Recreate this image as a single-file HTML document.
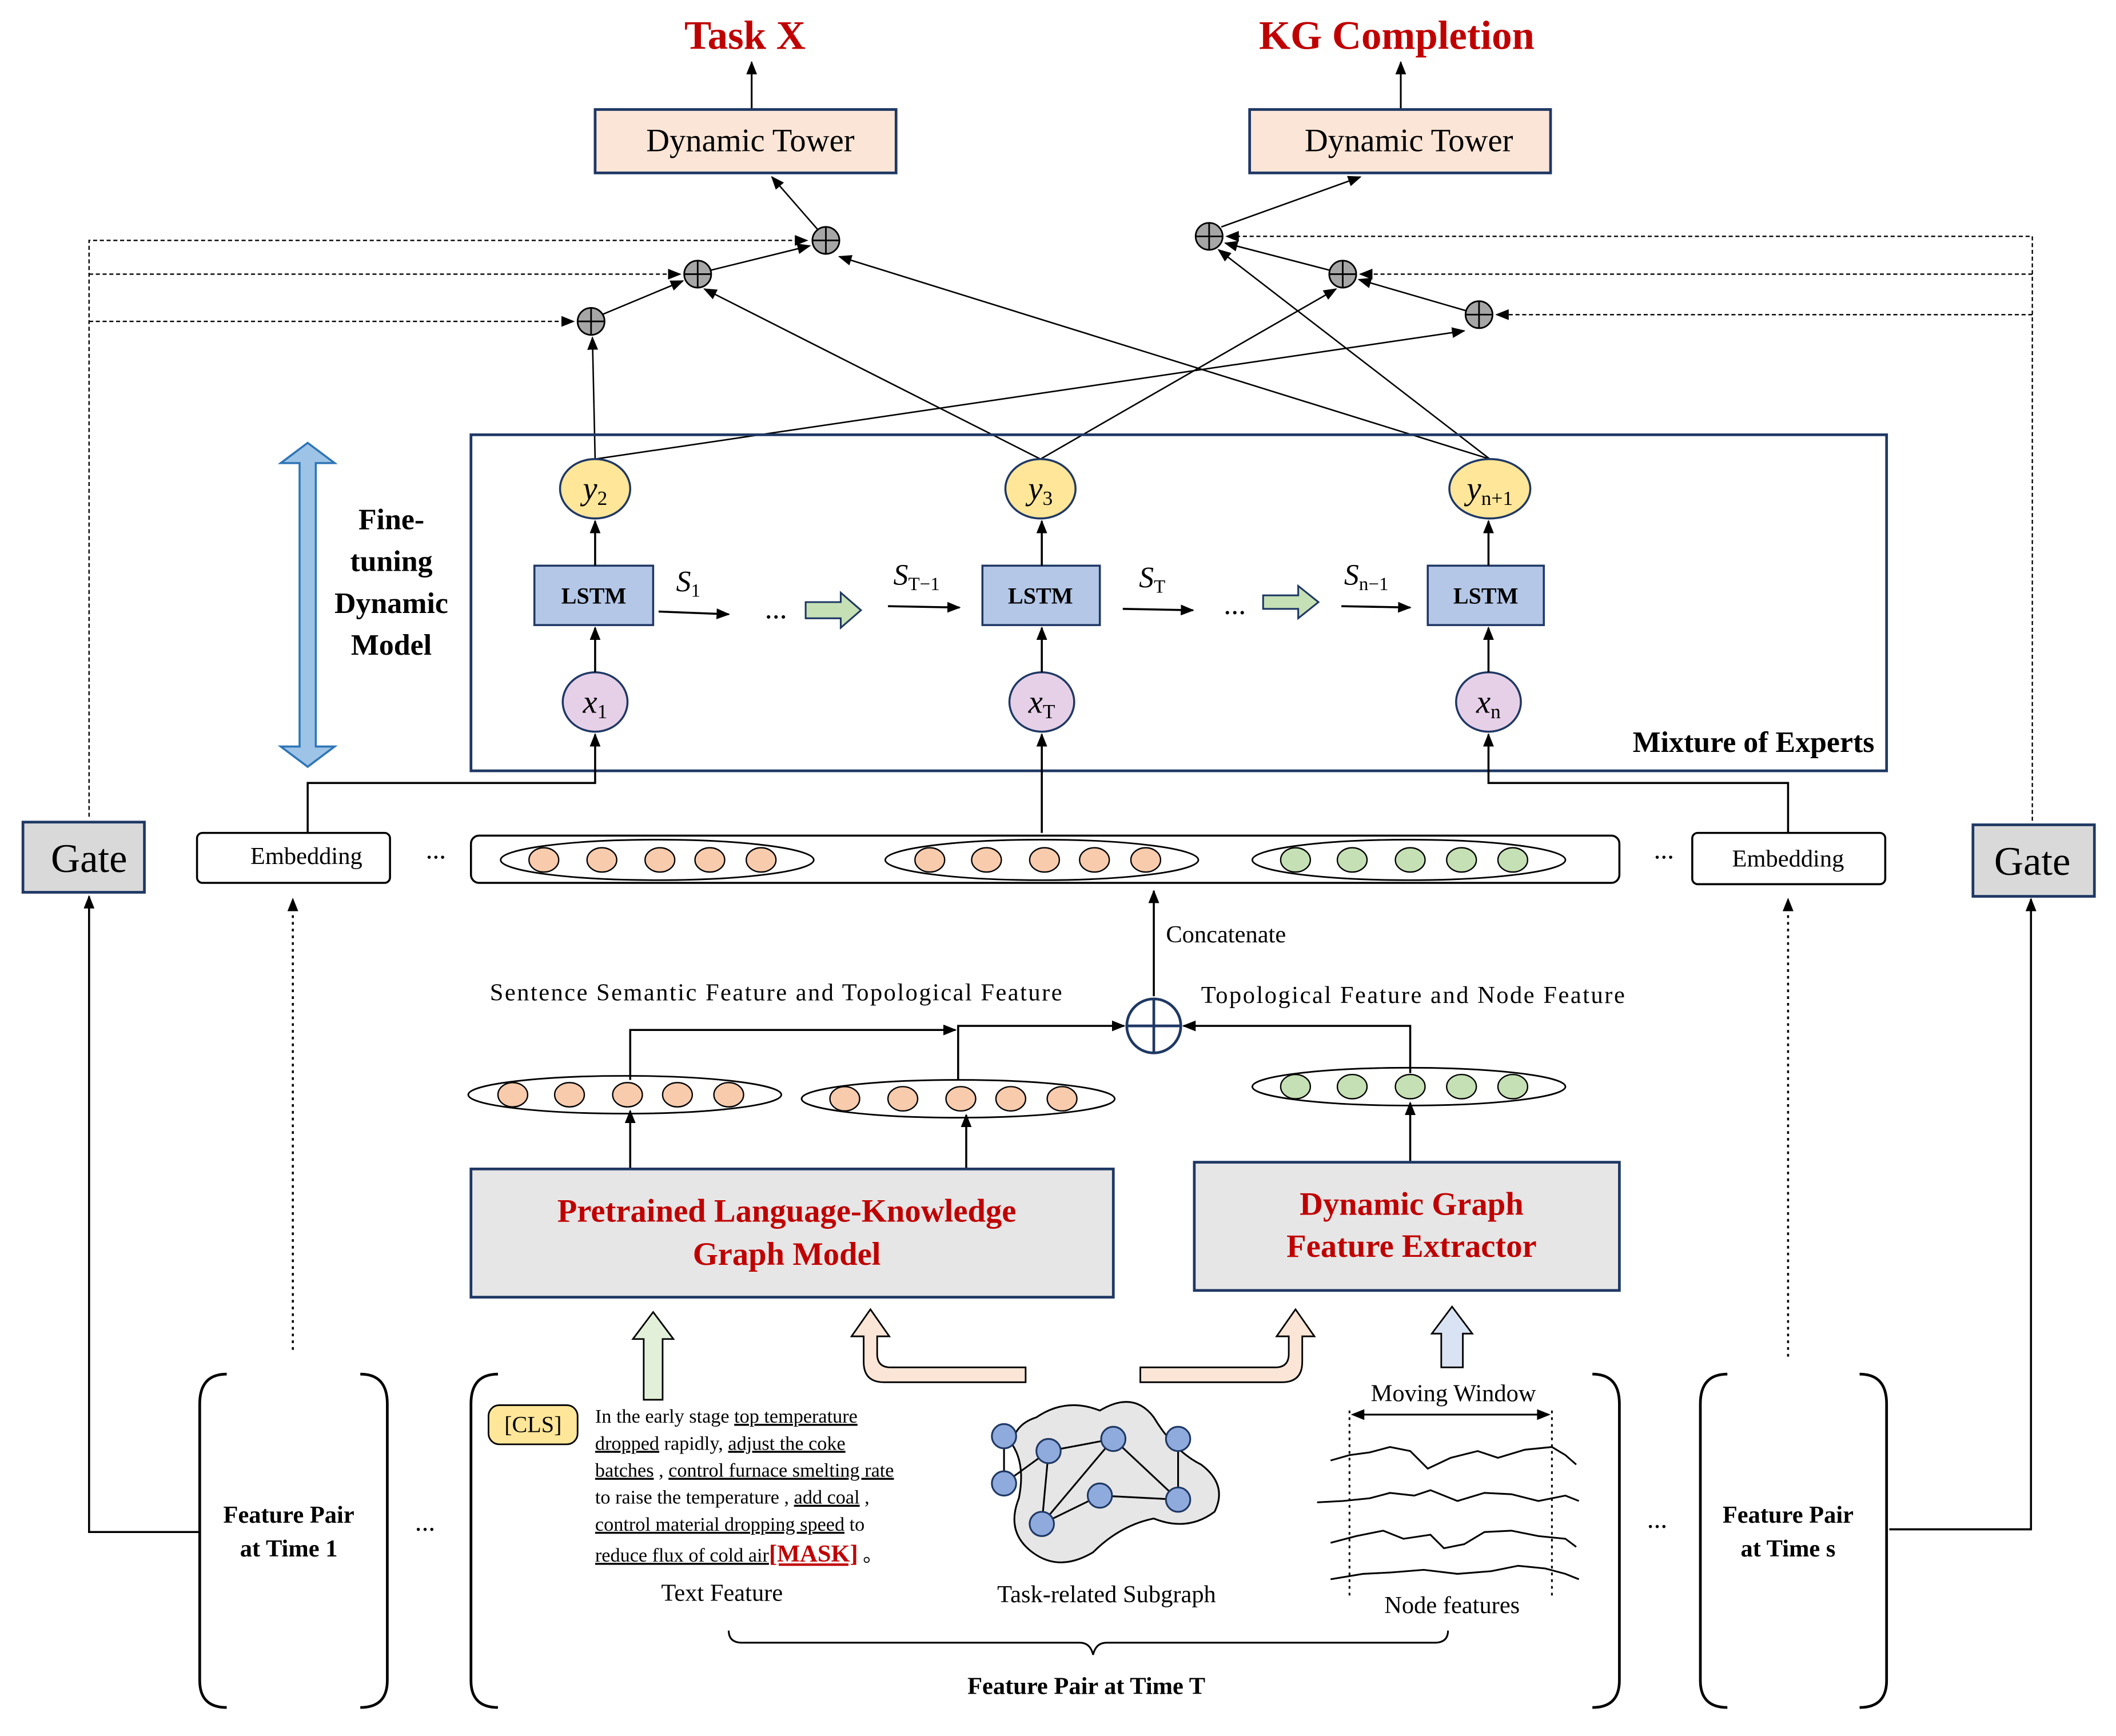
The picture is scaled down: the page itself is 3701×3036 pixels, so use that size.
<!DOCTYPE html>
<html><head><meta charset="utf-8"><style>
html,body{margin:0;padding:0;background:#fff}
svg{display:block}
text{font-family:"Liberation Serif",serif}
</style></head><body>
<svg width="3701" height="3036" viewBox="0 0 1568 1286" xmlns="http://www.w3.org/2000/svg">
<defs>
<marker id="a" markerWidth="10" markerHeight="8" refX="9" refY="4" orient="auto" markerUnits="userSpaceOnUse"><path d="M0,0 L10,4 L0,8 z" fill="#000"/></marker>
</defs>
<rect width="1568" height="1286" fill="#fff"/>
<text x="552" y="36" font-size="30" font-weight="bold" fill="#c00000" text-anchor="middle">Task X</text>
<text x="1035" y="36" font-size="30" font-weight="bold" fill="#c00000" text-anchor="middle">KG Completion</text>
<g stroke="#000" stroke-width="1.3" fill="none">
<line x1="557" y1="81" x2="557" y2="46" marker-end="url(#a)"/>
<line x1="1038" y1="81" x2="1038" y2="46" marker-end="url(#a)"/>
</g>
<rect x="441" y="81" width="223" height="47" fill="#fbe5d6" stroke="#1f3864" stroke-width="2"/>
<rect x="926" y="81" width="223" height="47" fill="#fbe5d6" stroke="#1f3864" stroke-width="2"/>
<text x="556" y="112" font-size="24" text-anchor="middle">Dynamic Tower</text>
<text x="1044" y="112" font-size="24" text-anchor="middle">Dynamic Tower</text>
<g stroke="#000" stroke-width="1.1" fill="none">
<line x1="606" y1="170" x2="572" y2="131" marker-end="url(#a)"/>
<line x1="905" y1="168" x2="1008" y2="131" marker-end="url(#a)"/>
<line x1="446" y1="233" x2="506" y2="208" marker-end="url(#a)"/>
<line x1="527" y1="200" x2="600" y2="182" marker-end="url(#a)"/>
<line x1="1086" y1="230" x2="1007" y2="207" marker-end="url(#a)"/>
<line x1="985" y1="200" x2="908" y2="180" marker-end="url(#a)"/>
<line x1="441" y1="340" x2="439" y2="250" marker-end="url(#a)"/>
<line x1="441" y1="340" x2="1085" y2="245" marker-end="url(#a)"/>
<line x1="771" y1="340" x2="522" y2="214" marker-end="url(#a)"/>
<line x1="771" y1="340" x2="990" y2="214" marker-end="url(#a)"/>
<line x1="1104" y1="340" x2="622" y2="190" marker-end="url(#a)"/>
<line x1="1104" y1="340" x2="903" y2="185" marker-end="url(#a)"/>
</g>
<g stroke="#000" stroke-width="1" fill="none" stroke-dasharray="3,2">
<polyline points="66,605 66,178 598,178" marker-end="url(#a)"/>
<line x1="66" y1="203" x2="504" y2="203" marker-end="url(#a)"/>
<line x1="66" y1="238" x2="425" y2="238" marker-end="url(#a)"/>
<polyline points="1506,608 1506,175 909,175" marker-end="url(#a)"/>
<line x1="1506" y1="203" x2="1008" y2="203" marker-end="url(#a)"/>
<line x1="1506" y1="233" x2="1109" y2="233" marker-end="url(#a)"/>
</g>
<g fill="#a6a6a6" stroke="#000" stroke-width="1.2">
<circle cx="612" cy="178" r="10"/><circle cx="517" cy="203" r="10"/><circle cx="438" cy="238" r="10"/>
<circle cx="896" cy="175" r="10"/><circle cx="995" cy="203" r="10"/><circle cx="1096" cy="233" r="10"/>
</g>
<g stroke="#000" stroke-width="1.2">
<path d="M602,178h20M612,168v20M507,203h20M517,193v20M428,238h20M438,228v20M886,175h20M896,165v20M985,203h20M995,193v20M1086,233h20M1096,223v20"/>
</g>
<rect x="349" y="322" width="1049" height="249" fill="none" stroke="#1f3864" stroke-width="2"/>
<text x="1389" y="557" font-size="22" font-weight="bold" text-anchor="end">Mixture of Experts</text>
<g fill="#ffe699" stroke="#1f3864" stroke-width="1.5">
<ellipse cx="441" cy="362" rx="26" ry="22"/><ellipse cx="771" cy="362" rx="26" ry="22"/><ellipse cx="1104" cy="362" rx="30" ry="22"/>
</g>
<text x="441" y="370" font-size="24" font-style="italic" text-anchor="middle">y<tspan font-size="15" font-style="normal" dy="4">2</tspan></text>
<text x="771" y="370" font-size="24" font-style="italic" text-anchor="middle">y<tspan font-size="15" font-style="normal" dy="4">3</tspan></text>
<text x="1104" y="370" font-size="24" font-style="italic" text-anchor="middle">y<tspan font-size="15" font-style="normal" dy="4">n+1</tspan></text>
<g fill="#b4c7e7" stroke="#1f3864" stroke-width="1.5">
<rect x="396" y="419" width="88" height="44"/><rect x="728" y="419" width="87" height="44"/><rect x="1058" y="419" width="86" height="44"/>
</g>
<g font-size="17" font-weight="bold" text-anchor="middle">
<text x="440" y="447">LSTM</text><text x="771" y="447">LSTM</text><text x="1101" y="447">LSTM</text>
</g>
<g fill="#e6d0e8" stroke="#1f3864" stroke-width="1.5">
<ellipse cx="441" cy="520" rx="24" ry="22"/><ellipse cx="772" cy="520" rx="24" ry="22"/><ellipse cx="1103" cy="520" rx="24" ry="22"/>
</g>
<text x="441" y="528" font-size="24" font-style="italic" text-anchor="middle">x<tspan font-size="15" font-style="normal" dy="4">1</tspan></text>
<text x="772" y="528" font-size="24" font-style="italic" text-anchor="middle">x<tspan font-size="15" font-style="normal" dy="4">T</tspan></text>
<text x="1103" y="528" font-size="24" font-style="italic" text-anchor="middle">x<tspan font-size="15" font-style="normal" dy="4">n</tspan></text>
<g stroke="#000" stroke-width="1.5" fill="none">
<line x1="441" y1="498" x2="441" y2="465" marker-end="url(#a)"/>
<line x1="772" y1="498" x2="772" y2="465" marker-end="url(#a)"/>
<line x1="1103" y1="498" x2="1103" y2="465" marker-end="url(#a)"/>
<line x1="441" y1="419" x2="441" y2="386" marker-end="url(#a)"/>
<line x1="772" y1="419" x2="772" y2="386" marker-end="url(#a)"/>
<line x1="1103" y1="419" x2="1103" y2="386" marker-end="url(#a)"/>
<line x1="488" y1="453" x2="540" y2="455" marker-end="url(#a)"/>
<line x1="658" y1="449" x2="711" y2="450" marker-end="url(#a)"/>
<line x1="832" y1="451" x2="884" y2="452" marker-end="url(#a)"/>
<line x1="994" y1="449" x2="1045" y2="450" marker-end="url(#a)"/>
</g>
<g font-size="22" font-style="italic">
<text x="501" y="438">S<tspan font-size="14" font-style="normal" dy="4">1</tspan></text>
<text x="662" y="433">S<tspan font-size="14" font-style="normal" dy="4">T−1</tspan></text>
<text x="844" y="435">S<tspan font-size="14" font-style="normal" dy="4">T</tspan></text>
<text x="996" y="433">S<tspan font-size="14" font-style="normal" dy="4">n−1</tspan></text>
</g>
<text x="575" y="458" font-size="22" text-anchor="middle">...</text>
<text x="915" y="455" font-size="22" text-anchor="middle">...</text>
<g fill="#c5e0b4" stroke="#1f3864" stroke-width="1.3">
<path d="M597,446h26v-7l15,13l-15,13v-7h-26z"/>
<path d="M936,441h26v-7l15,12l-15,12v-7h-26z"/>
</g>
<path d="M228,328 L248,343 L234,343 L234,553 L248,553 L228,568 L208,553 L222,553 L222,343 L208,343 Z" fill="#9dc3e6" stroke="#2e75b6" stroke-width="1.5"/>
<g font-size="22" font-weight="bold" text-anchor="middle">
<text x="290" y="392">Fine-</text><text x="290" y="423">tuning</text><text x="290" y="454">Dynamic</text><text x="290" y="485">Model</text>
</g>
<rect x="17" y="609" width="90" height="52" fill="#d9d9d9" stroke="#1f3864" stroke-width="2"/>
<rect x="1462" y="611" width="90" height="53" fill="#d9d9d9" stroke="#1f3864" stroke-width="2"/>
<text x="66" y="646" font-size="30" text-anchor="middle">Gate</text>
<text x="1506" y="648" font-size="30" text-anchor="middle">Gate</text>
<rect x="146" y="617" width="143" height="37" rx="4" fill="#fff" stroke="#000" stroke-width="1.5"/>
<rect x="1254" y="617" width="143" height="38" rx="4" fill="#fff" stroke="#000" stroke-width="1.5"/>
<text x="227" y="640" font-size="18" text-anchor="middle">Embedding</text>
<text x="1325" y="642" font-size="18" text-anchor="middle">Embedding</text>
<text x="323" y="636" font-size="20" text-anchor="middle">...</text>
<text x="1233" y="636" font-size="20" text-anchor="middle">...</text>
<rect x="349" y="619" width="851" height="35" rx="6" fill="#fff" stroke="#000" stroke-width="1.5"/>
<g fill="none" stroke="#000" stroke-width="1.2">
<ellipse cx="487" cy="637" rx="116" ry="15"/><ellipse cx="772" cy="637" rx="116" ry="15"/><ellipse cx="1044" cy="637" rx="116" ry="15"/>
<ellipse cx="463" cy="811" rx="116" ry="14"/><ellipse cx="710" cy="814" rx="116" ry="14"/><ellipse cx="1044" cy="805" rx="116" ry="14"/>
</g>
<g fill="#f8cbad" stroke="#000" stroke-width="1">
<ellipse cx="403" cy="637" rx="11" ry="9"/><ellipse cx="446" cy="637" rx="11" ry="9"/><ellipse cx="489" cy="637" rx="11" ry="9"/><ellipse cx="526" cy="637" rx="11" ry="9"/><ellipse cx="564" cy="637" rx="11" ry="9"/>
<ellipse cx="689" cy="637" rx="11" ry="9"/><ellipse cx="731" cy="637" rx="11" ry="9"/><ellipse cx="774" cy="637" rx="11" ry="9"/><ellipse cx="811" cy="637" rx="11" ry="9"/><ellipse cx="849" cy="637" rx="11" ry="9"/>
<ellipse cx="380" cy="811" rx="11" ry="9"/><ellipse cx="422" cy="811" rx="11" ry="9"/><ellipse cx="465" cy="811" rx="11" ry="9"/><ellipse cx="502" cy="811" rx="11" ry="9"/><ellipse cx="540" cy="811" rx="11" ry="9"/>
<ellipse cx="626" cy="814" rx="11" ry="9"/><ellipse cx="669" cy="814" rx="11" ry="9"/><ellipse cx="712" cy="814" rx="11" ry="9"/><ellipse cx="749" cy="814" rx="11" ry="9"/><ellipse cx="787" cy="814" rx="11" ry="9"/>
</g>
<g fill="#c5e0b4" stroke="#000" stroke-width="1">
<ellipse cx="960" cy="637" rx="11" ry="9"/><ellipse cx="1002" cy="637" rx="11" ry="9"/><ellipse cx="1045" cy="637" rx="11" ry="9"/><ellipse cx="1083" cy="637" rx="11" ry="9"/><ellipse cx="1121" cy="637" rx="11" ry="9"/>
<ellipse cx="960" cy="805" rx="11" ry="9"/><ellipse cx="1002" cy="805" rx="11" ry="9"/><ellipse cx="1045" cy="805" rx="11" ry="9"/><ellipse cx="1083" cy="805" rx="11" ry="9"/><ellipse cx="1121" cy="805" rx="11" ry="9"/>
</g>
<g stroke="#000" stroke-width="1.5" fill="none">
<polyline points="228,617 228,580 441,580 441,544" marker-end="url(#a)"/>
<line x1="772" y1="617" x2="772" y2="544" marker-end="url(#a)"/>
<polyline points="1325,617 1325,580 1103,580 1103,544" marker-end="url(#a)"/>
<line x1="855" y1="738" x2="855" y2="660" marker-end="url(#a)"/>
<polyline points="467,800 467,763 708,763" marker-end="url(#a)"/>
<polyline points="710,800 710,760 833,760" marker-end="url(#a)"/>
<polyline points="1045,795 1045,760 877,760" marker-end="url(#a)"/>
<line x1="467" y1="865" x2="467" y2="823" marker-end="url(#a)"/>
<line x1="716" y1="865" x2="716" y2="826" marker-end="url(#a)"/>
<line x1="1045" y1="860" x2="1045" y2="817" marker-end="url(#a)"/>
<polyline points="148,1135 66,1135 66,664" marker-end="url(#a)"/>
<polyline points="1400,1133 1505,1133 1505,666" marker-end="url(#a)"/>
</g>
<g stroke="#000" stroke-width="1.5" fill="none" stroke-dasharray="2,3">
<line x1="217" y1="1000" x2="217" y2="666" marker-end="url(#a)"/>
<line x1="1325" y1="1005" x2="1325" y2="666" marker-end="url(#a)"/>
</g>
<circle cx="855" cy="760" r="20" fill="#fff" stroke="#1f3864" stroke-width="2"/>
<path d="M835,760h40M855,740v40" stroke="#1f3864" stroke-width="2"/>
<text x="864" y="698" font-size="18">Concatenate</text>
<text x="575" y="741" font-size="18" text-anchor="middle" textLength="424">Sentence Semantic Feature and Topological Feature</text>
<text x="1047" y="743" font-size="18" text-anchor="middle" textLength="314">Topological Feature and Node Feature</text>
<rect x="349" y="866" width="476" height="95" fill="#e7e6e6" stroke="#1f3864" stroke-width="2"/>
<rect x="885" y="861" width="315" height="95" fill="#e7e6e6" stroke="#1f3864" stroke-width="2"/>
<g font-size="24" font-weight="bold" fill="#c00000" text-anchor="middle">
<text x="583" y="905">Pretrained Language-Knowledge</text><text x="583" y="937">Graph Model</text>
<text x="1046" y="900">Dynamic Graph</text><text x="1046" y="931">Feature Extractor</text>
</g>
<path d="M477,1037 V992 H469 L484,972 L499,992 H491 V1037 Z" fill="#e2f0d9" stroke="#000" stroke-width="1.2"/>
<path d="M1068,1013 V988 H1061 L1076,968 L1091,988 H1084 V1013 Z" fill="#dae3f3" stroke="#000" stroke-width="1.2"/>
<path d="M760,1024 H655 Q640,1024 640,1009 V990 H631 L645,970 L659,990 H650 V1003 Q650,1013 660,1013 H760 Z" fill="#fbe5d6" stroke="#000" stroke-width="1.2"/>
<path d="M845,1024 H950 Q965,1024 965,1009 V990 H974 L960,970 L946,990 H955 V1003 Q955,1013 945,1013 H845 Z" fill="#fbe5d6" stroke="#000" stroke-width="1.2"/>
<g fill="none" stroke="#000" stroke-width="2">
<path d="M168,1018 Q148,1018 148,1040 V1245 Q148,1265 168,1265"/>
<path d="M267,1018 Q287,1018 287,1040 V1245 Q287,1265 267,1265"/>
<path d="M369,1018 Q349,1018 349,1040 V1245 Q349,1265 369,1265"/>
<path d="M1180,1018 Q1200,1018 1200,1040 V1245 Q1200,1265 1180,1265"/>
<path d="M1280,1018 Q1260,1018 1260,1040 V1245 Q1260,1265 1280,1265"/>
<path d="M1378,1018 Q1398,1018 1398,1040 V1245 Q1398,1265 1378,1265"/>
<path d="M540,1208 Q540,1217 550,1217 H800 Q808,1217 810,1226 Q812,1217 820,1217 H1063 Q1073,1217 1073,1208" stroke-width="1.3"/>
</g>
<g font-size="18" font-weight="bold" text-anchor="middle">
<text x="214" y="1128">Feature Pair</text><text x="214" y="1153">at Time 1</text>
<text x="1325" y="1128">Feature Pair</text><text x="1325" y="1153">at Time s</text>
<text x="805" y="1255">Feature Pair at Time T</text>
</g>
<text x="315" y="1134" font-size="20" text-anchor="middle">...</text>
<text x="1228" y="1132" font-size="20" text-anchor="middle">...</text>
<rect x="362" y="1041" width="66" height="29" rx="8" fill="#ffe699" stroke="#000" stroke-width="1.2"/>
<text x="395" y="1061" font-size="17" text-anchor="middle">[CLS]</text>
<g font-size="14.5">
<text x="441" y="1054">In the early stage  <tspan text-decoration="underline">top temperature</tspan></text>
<text x="441" y="1074"><tspan text-decoration="underline">dropped</tspan> rapidly,  <tspan text-decoration="underline">adjust the coke</tspan></text>
<text x="441" y="1094"><tspan text-decoration="underline">batches</tspan> , <tspan text-decoration="underline">control furnace smelting rate</tspan></text>
<text x="441" y="1114">to raise the temperature , <tspan text-decoration="underline">add coal</tspan> ,</text>
<text x="441" y="1134"><tspan text-decoration="underline">control material dropping speed</tspan> to</text>
<text x="441" y="1157"><tspan text-decoration="underline">reduce flux of cold air</tspan><tspan font-size="18" font-weight="bold" fill="#c00000" text-decoration="underline">[MASK]</tspan>  。</text>
</g>
<text x="535" y="1186" font-size="18" text-anchor="middle">Text Feature</text>
<text x="820" y="1187" font-size="18" text-anchor="middle">Task-related Subgraph</text>
<text x="1076" y="1195" font-size="18" text-anchor="middle">Node features</text>
<text x="1077" y="1038" font-size="18" text-anchor="middle">Moving Window</text>
<path d="M768,1050 Q790,1035 815,1045 Q840,1030 855,1050 Q870,1075 890,1085 Q910,1100 900,1120 Q880,1135 855,1125 Q830,1130 810,1150 Q785,1165 765,1150 Q745,1135 755,1110 Q760,1085 750,1070 Q752,1055 768,1050 Z" fill="#e7e6e6" stroke="#000" stroke-width="1.3"/>
<g stroke="#000" stroke-width="1.3">
<line x1="744" y1="1064" x2="744" y2="1099"/><line x1="744" y1="1099" x2="777" y2="1075"/><line x1="777" y1="1075" x2="825" y2="1066"/>
<line x1="825" y1="1066" x2="873" y2="1111"/><line x1="777" y1="1075" x2="772" y2="1129"/><line x1="772" y1="1129" x2="815" y2="1108"/>
<line x1="815" y1="1108" x2="873" y2="1111"/><line x1="873" y1="1066" x2="873" y2="1111"/><line x1="825" y1="1066" x2="772" y2="1129"/>
</g>
<g fill="#8faadc" stroke="#1f3864" stroke-width="1.3">
<circle cx="744" cy="1064" r="9"/><circle cx="744" cy="1099" r="9"/><circle cx="777" cy="1075" r="9"/><circle cx="825" cy="1066" r="9"/>
<circle cx="873" cy="1066" r="9"/><circle cx="873" cy="1111" r="9"/><circle cx="815" cy="1108" r="9"/><circle cx="772" cy="1129" r="9"/>
</g>
<g fill="none" stroke="#000" stroke-width="1.3">
<path d="M986,1082 L1000,1078 L1015,1076 L1030,1072 L1045,1075 L1058,1088 L1075,1080 L1095,1075 L1110,1080 L1130,1074 L1150,1072 L1160,1078 L1168,1085"/>
<path d="M976,1113 L995,1112 L1015,1110 L1030,1106 L1048,1108 L1060,1104 L1080,1112 L1100,1106 L1120,1107 L1140,1112 L1160,1108 L1170,1112"/>
<path d="M986,1143 L1005,1138 L1025,1134 L1040,1140 L1060,1137 L1070,1147 L1085,1144 L1100,1135 L1120,1134 L1140,1138 L1160,1140 L1168,1146"/>
<path d="M986,1170 L1010,1166 L1030,1165 L1055,1163 L1080,1166 L1105,1164 L1125,1160 L1145,1162 L1160,1166 L1170,1170"/>
</g>
<g stroke="#000" stroke-width="1.3" stroke-dasharray="2,3">
<line x1="1000" y1="1045" x2="1000" y2="1185"/><line x1="1150" y1="1045" x2="1150" y2="1185"/>
</g>
<line x1="1010" y1="1048" x2="1140" y2="1048" stroke="#000" stroke-width="1.3"/>
<path d="M1001,1048 l10,-4 v8z M1149,1048 l-10,-4 v8z" fill="#000"/>
</svg>
</body></html>
